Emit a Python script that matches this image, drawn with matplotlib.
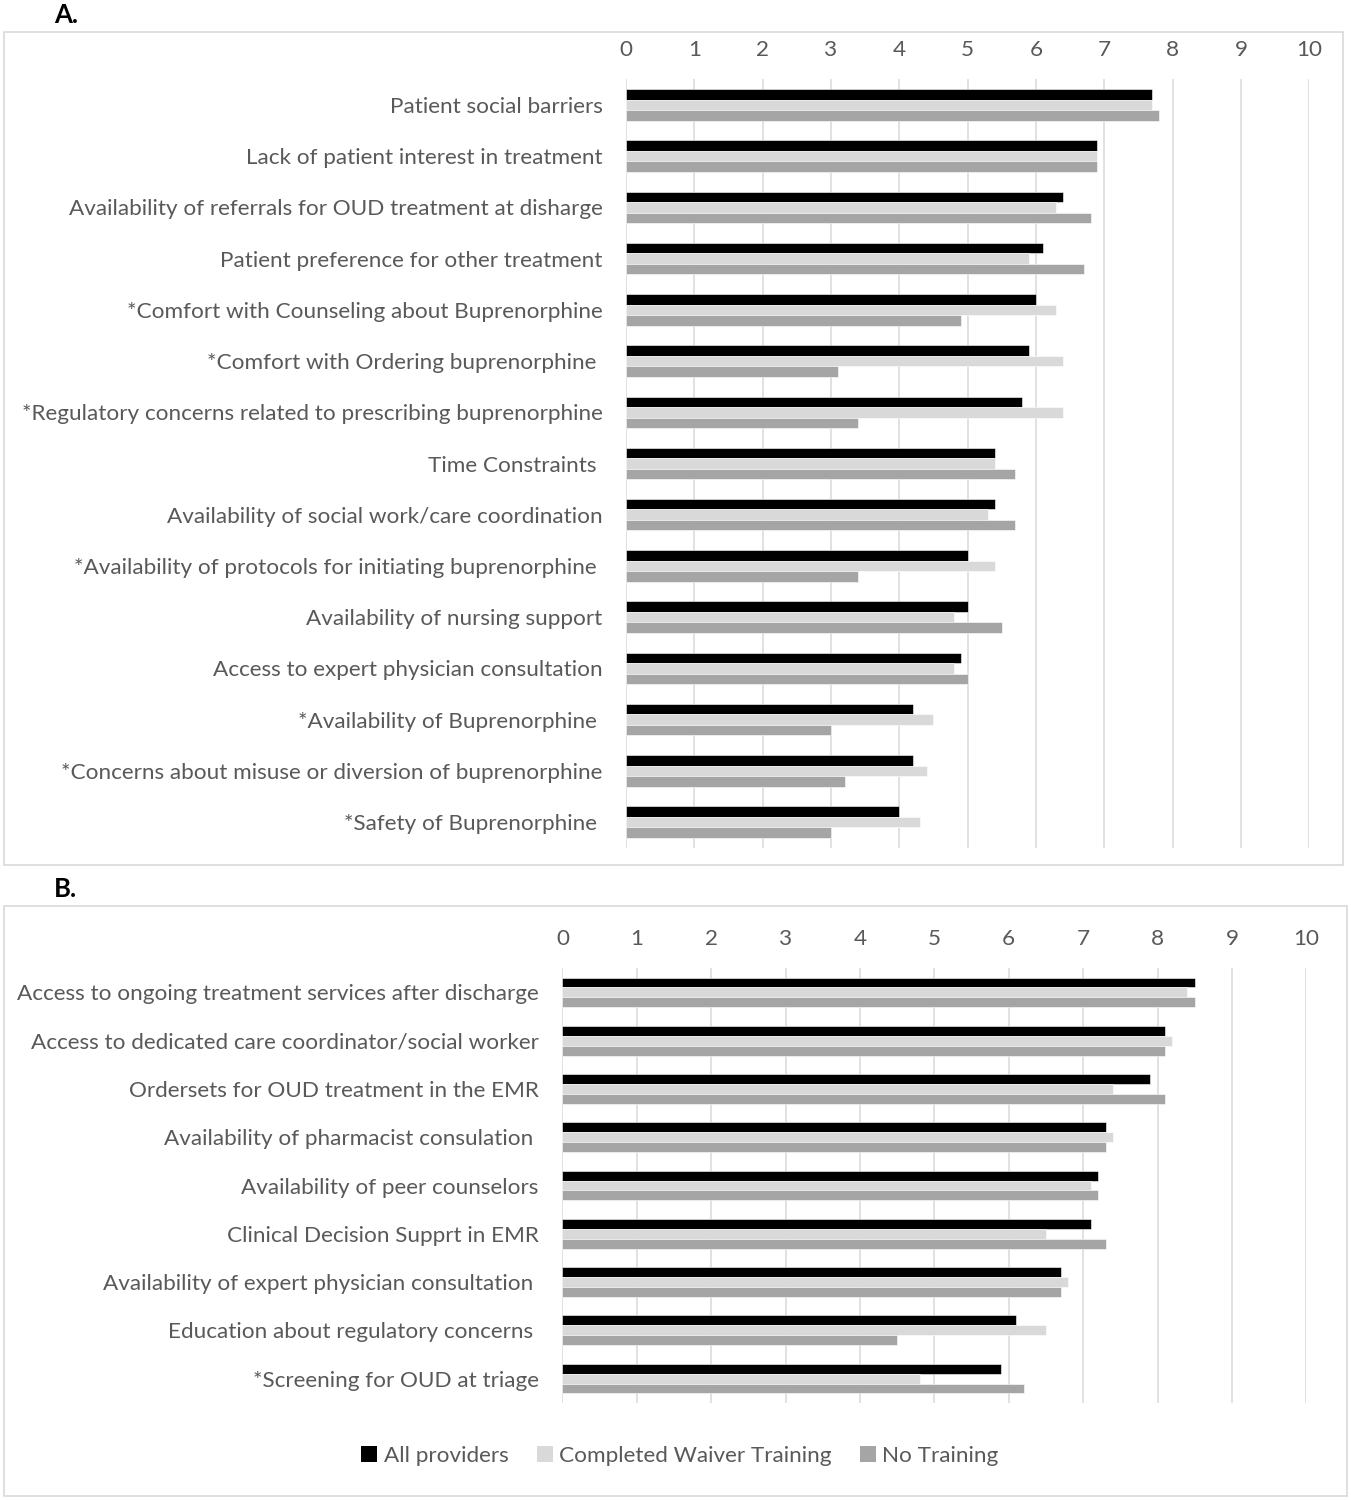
import numpy as np
import matplotlib.pyplot as plt
from matplotlib.patches import Rectangle, Patch

# Panel A: barriers
a_labels = [
    "Patient social barriers",
    "Lack of patient interest in treatment",
    "Availability of referrals for OUD treatment at disharge",
    "Patient preference for other treatment",
    "*Comfort with Counseling about Buprenorphine",
    "*Comfort with Ordering buprenorphine ",
    "*Regulatory concerns related to prescribing buprenorphine",
    "Time Constraints ",
    "Availability of social work/care coordination",
    "*Availability of protocols for initiating buprenorphine ",
    "Availability of nursing support",
    "Access to expert physician consultation",
    "*Availability of Buprenorphine ",
    "*Concerns about misuse or diversion of buprenorphine",
    "*Safety of Buprenorphine ",
]
a_all = [7.7, 6.9, 6.4, 6.1, 6.0, 5.9, 5.8, 5.4, 5.4, 5.0, 5.0, 4.9, 4.2, 4.2, 4.0]
a_waiver = [7.7, 6.9, 6.3, 5.9, 6.3, 6.4, 6.4, 5.4, 5.3, 5.4, 4.8, 4.8, 4.5, 4.4, 4.3]
a_none = [7.8, 6.9, 6.8, 6.7, 4.9, 3.1, 3.4, 5.7, 5.7, 3.4, 5.5, 5.0, 3.0, 3.2, 3.0]

# Panel B: facilitators
b_labels = [
    "Access to ongoing treatment services after discharge",
    "Access to dedicated care coordinator/social worker",
    "Ordersets for OUD treatment in the EMR",
    "Availability of pharmacist consulation ",
    "Availability of peer counselors",
    "Clinical Decision Supprt in EMR",
    "Availability of expert physician consultation ",
    "Education about regulatory concerns ",
    "*Screening for OUD at triage",
]
b_all = [8.5, 8.1, 7.9, 7.3, 7.2, 7.1, 6.7, 6.1, 5.9]
b_waiver = [8.4, 8.2, 7.4, 7.4, 7.1, 6.5, 6.8, 6.5, 4.8]
b_none = [8.5, 8.1, 8.1, 7.3, 7.2, 7.3, 6.7, 4.5, 6.2]

series_names = ["All providers", "Completed Waiver Training", "No Training"]
colors = ["#000000", "#d9d9d9", "#a5a5a5"]
text_color = "#595959"
grid_color = "#d9d9d9"

plt.rcParams['font.family'] = ['Lato', 'DejaVu Sans']
FS = 16.2

W, H = 1351, 1500
fig = plt.figure(figsize=(W / 100, H / 100), dpi=100)


def px_axes(left, top, right, bottom):
    return fig.add_axes([left / W, 1 - bottom / H, (right - left) / W, (bottom - top) / H])


def draw_panel(ax, labels, series):
    n = len(labels)
    y = np.arange(n)
    h = 0.205
    for i, (vals, c) in enumerate(zip(series, colors)):
        ax.barh(y + (i - 1) * h, vals, height=h, color=c, edgecolor="white",
                linewidth=0.4, zorder=3, label=series_names[i])
    ax.set_xlim(0, 10)
    ax.set_ylim(n - 0.5, -0.5)
    ax.set_xticks(range(11))
    ax.xaxis.tick_top()
    ax.set_yticks(y)
    ax.set_yticklabels(labels)
    ax.tick_params(axis="x", length=0, pad=14, labelsize=FS, labelcolor=text_color)
    ax.tick_params(axis="y", length=0, pad=17, labelsize=FS, labelcolor=text_color)
    ax.grid(axis="x", color=grid_color, linewidth=1.1, zorder=0)
    for s in ax.spines.values():
        s.set_visible(False)


ax_a = px_axes(626, 79.4, 1309.3, 847.6)
draw_panel(ax_a, a_labels, [a_all, a_waiver, a_none])

ax_b = px_axes(562.4, 968.3, 1306.4, 1402.7)
draw_panel(ax_b, b_labels, [b_all, b_waiver, b_none])

# panel frames
for (l, t, r, b) in [(3.5, 31.7, 1342.7, 865), (4, 906, 1346.5, 1495.5)]:
    fig.add_artist(Rectangle((l / W, 1 - b / H), (r - l) / W, (b - t) / H,
                             transform=fig.transFigure, fill=False,
                             edgecolor=grid_color, linewidth=1.2))

fig.text(54 / W, 1 - 15 / H, "A.", fontsize=18.5, fontweight="bold", va="center", ha="left")
fig.text(54 / W, 1 - 889 / H, "B.", fontsize=18.5, fontweight="bold", va="center", ha="left")

handles = [Patch(facecolor=c, edgecolor="none") for c in colors]
fig.legend(handles, series_names, loc="center", bbox_to_anchor=(680 / W, 1 - 1456 / H),
           ncol=3, frameon=False, fontsize=FS, labelcolor=text_color,
           handlelength=0.7, handleheight=0.7, handletextpad=0.3, columnspacing=1.25)

fig.savefig("out.png", dpi=100)
